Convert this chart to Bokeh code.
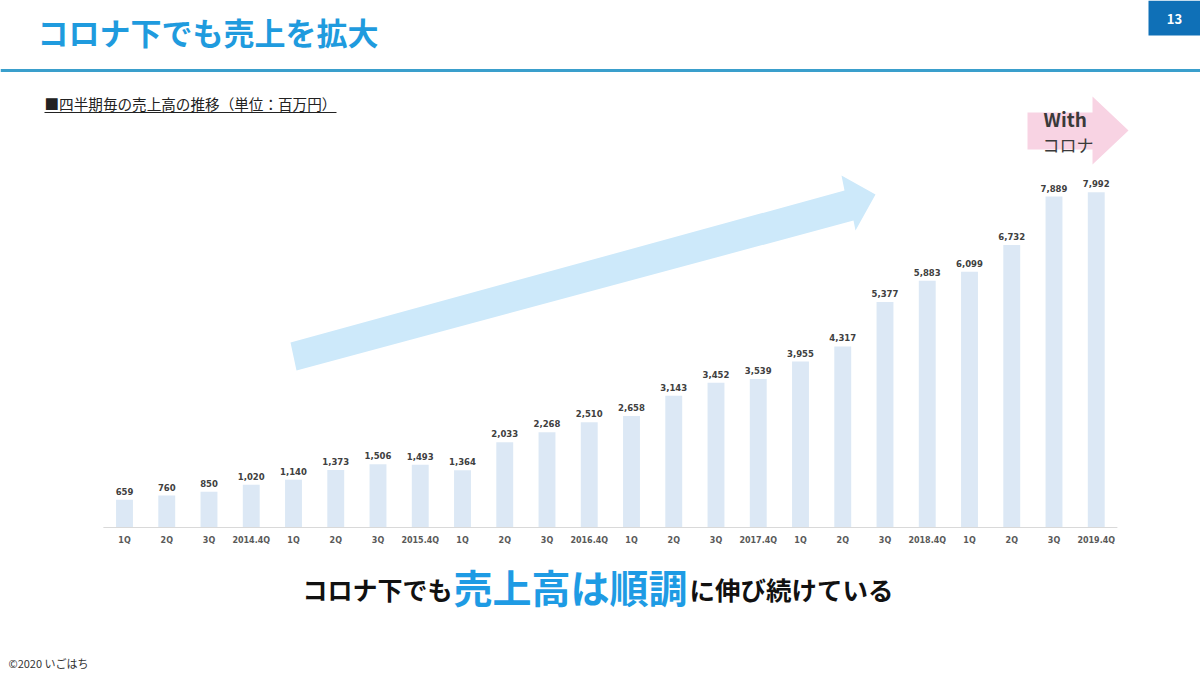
from bokeh.plotting import figure
from bokeh.models import Range1d, ColumnDataSource
from bokeh.core.properties import value
from bokeh.embed import file_html
from bokeh.resources import INLINE

# ---- data ----
categories = ["1Q", "2Q", "3Q", "2014.4Q",
              "1Q", "2Q", "3Q", "2015.4Q",
              "1Q", "2Q", "3Q", "2016.4Q",
              "1Q", "2Q", "3Q", "2017.4Q",
              "1Q", "2Q", "3Q", "2018.4Q",
              "1Q", "2Q", "3Q", "2019.4Q"]
sales = [659, 760, 850, 1020, 1140, 1373, 1506, 1493, 1364, 2033, 2268, 2510,
         2658, 3143, 3452, 3539, 3955, 4317, 5377, 5883, 6099, 6732, 7889, 7992]
sales_labels = [f"{v:,}" for v in sales]

title_text = "コロナ下でも売上を拡大"
subtitle_text = "■四半期毎の売上高の推移（単位：百万円）"
page_no = "13"
footer_text = "©2020 いごはち"
msg_a, msg_b, msg_c = "コロナ下でも", "売上高は順調", "に伸び続けている"

W, H = 1200, 675
JP = value("Noto Sans CJK JP")
NUM = value("DejaVu Sans")

# layout of the bar area on the page (pixels)
bar_x0, bar_dx = 124.0, 42.25      # centre of first bar, spacing
base_y, px_per_unit = 527.0, 0.04195

p = figure(width=W, height=H, output_backend="svg", toolbar_location=None,
           x_range=Range1d(0, W), y_range=Range1d(H, 0),
           min_border=0, outline_line_color=None, background_fill_color="white",
           border_fill_color="white")
p.axis.visible = False
p.grid.visible = False

p.extra_x_ranges = {"q": Range1d(-bar_x0 / bar_dx, (W - bar_x0) / bar_dx)}
p.extra_y_ranges = {"v": Range1d(-(H - base_y) / px_per_unit, base_y / px_per_unit)}

src = ColumnDataSource(dict(idx=list(range(len(sales))), sales=sales,
                            lab=sales_labels, cat=categories,
                            zero=[0] * len(sales)))

# ---- header ----
p.text(x=[37], y=[31], text=[title_text], text_font=JP, text_font_style="bold",
       text_font_size="31px", text_color="#1F9BDE", text_baseline="middle",
       text_align="left")
p.quad(left=[1148], right=[1200], top=[0], bottom=[35], fill_color="#0F70B7",
       line_color=None)
p.text(x=[1174], y=[18], text=[page_no], text_font=JP, text_font_style="bold",
       text_font_size="13px", text_color="white", text_baseline="middle",
       text_align="center")
p.segment(x0=[0], y0=[70], x1=[W], y1=[70], line_color="#3A9FCC", line_width=3)

p.text(x=[44], y=[103], text=[subtitle_text], text_font=JP,
       text_font_size="14.6px", text_color="#222222", text_baseline="middle",
       text_align="left")
p.segment(x0=[44], y0=[112], x1=[336], y1=[112], line_color="#222222", line_width=1)

# ---- decorative arrows ----
p.patch(x=[296, 290, 844, 841, 875, 855, 853],
        y=[370, 342, 190, 175, 194, 230, 220],
        fill_color="#CDE9FA", line_color=None)
p.patch(x=[1027, 1092, 1092, 1128, 1092, 1092, 1027],
        y=[112, 112, 96, 130, 164, 149, 149],
        fill_color="#F8D3E3", line_color=None)
p.text(x=[1043], y=[118], text=["With"], text_font=JP, text_font_style="bold",
       text_font_size="19px", text_color="#3A3A3A", text_baseline="middle",
       text_align="left")
p.text(x=[1042], y=[144], text=["コロナ"], text_font=JP,
       text_font_size="17px", text_color="#3A3A3A", text_baseline="middle",
       text_align="left")

# ---- bars ----
p.vbar(x="idx", top="sales", bottom=0, width=0.40, source=src,
       x_range_name="q", y_range_name="v", fill_color="#DCE8F5", line_color=None)
p.line(x=[-0.5, len(sales) - 0.5], y=[0, 0], x_range_name="q", y_range_name="v",
       line_color="#D9D9D9", line_width=1)
p.text(x="idx", y="sales", text="lab", source=src, x_range_name="q",
       y_range_name="v", text_font=NUM, text_font_style="bold",
       text_font_size="8.5px", text_color="#404040", text_align="center",
       text_baseline="bottom", y_offset=-5)
p.text(x="idx", y="zero", text="cat", source=src, x_range_name="q",
       y_range_name="v", text_font=NUM, text_font_style="bold",
       text_font_size="8px", text_color="#595959", text_align="center",
       text_baseline="top", y_offset=8)

# ---- bottom message ----
p.text(x=[452], y=[588], text=[msg_a], text_font=JP, text_font_style="bold",
       text_font_size="25px", text_color="#111111", text_baseline="middle",
       text_align="right")
p.text(x=[570], y=[585], text=[msg_b], text_font=JP, text_font_style="bold",
       text_font_size="39px", text_color="#1E9BE4", text_baseline="middle",
       text_align="center")
p.text(x=[689], y=[588], text=[msg_c], text_font=JP, text_font_style="bold",
       text_font_size="25.5px", text_color="#111111", text_baseline="middle",
       text_align="left")

p.text(x=[8], y=[662], text=[footer_text], text_font=JP,
       text_font_size="11px", text_color="#333333", text_baseline="middle",
       text_align="left")

open("out.html", "w").write(file_html(p, INLINE))
